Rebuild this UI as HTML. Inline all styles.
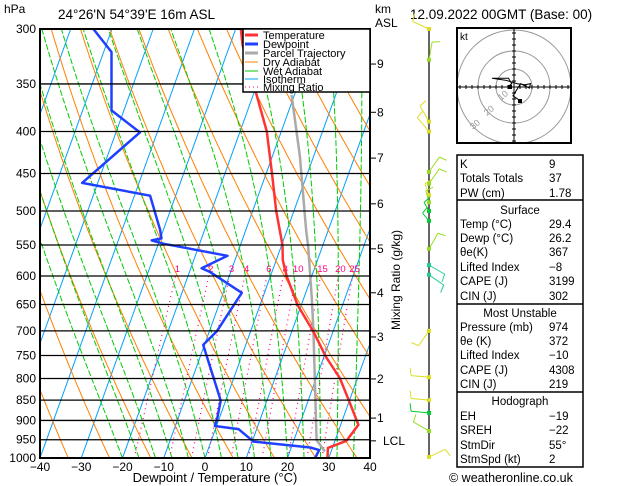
<!DOCTYPE html>
<html><head><meta charset="utf-8"><style>
body{margin:0;background:#fff;}
svg{display:block;font-family:"Liberation Sans",sans-serif;}
</style></head><body>
<svg id="c" width="629" height="486" viewBox="0 0 629 486">
<defs><clipPath id="pc"><rect x="40" y="29" width="330" height="429"/></clipPath></defs>
<g id="bg" clip-path="url(#pc)"></g>
<g id="series" clip-path="url(#pc)"></g>
<g id="axes"></g>
<rect x="40" y="29" width="330" height="429" fill="none" stroke="#000" stroke-width="2"/>
<text x="4" y="13" font-size="12">hPa</text>
<text x="58" y="19" font-size="13.5">24°26'N 54°39'E 16m ASL</text>
<text x="375" y="13" font-size="12">km</text>
<text x="375" y="27" font-size="12">ASL</text>
<text x="410" y="19" font-size="13.5">12.09.2022 00GMT (Base: 00)</text>
<text x="215" y="482" font-size="13" text-anchor="middle">Dewpoint / Temperature (°C)</text>
<text transform="translate(400,280) rotate(-90)" font-size="12" text-anchor="middle">Mixing Ratio (g/kg)</text>
<g>
<rect x="243" y="29" width="127" height="63" fill="#fff" stroke="#000" stroke-width="1.5"/>
<line x1="245" y1="35" x2="258" y2="35" stroke="#ff3333" stroke-width="3"/><text x="263" y="39" font-size="11">Temperature</text>
<line x1="245" y1="44" x2="258" y2="44" stroke="#2040ff" stroke-width="3"/><text x="263" y="48" font-size="11">Dewpoint</text>
<line x1="245" y1="53" x2="258" y2="53" stroke="#aaa" stroke-width="3"/><text x="263" y="57" font-size="11">Parcel Trajectory</text>
<line x1="245" y1="62" x2="258" y2="62" stroke="#ff8000" stroke-width="1"/><text x="263" y="66" font-size="11">Dry Adiabat</text>
<line x1="245" y1="71" x2="258" y2="71" stroke="#00cc00" stroke-width="1"/><text x="263" y="75" font-size="11">Wet Adiabat</text>
<line x1="245" y1="79" x2="258" y2="79" stroke="#00a0ff" stroke-width="1"/><text x="263" y="83" font-size="11">Isotherm</text>
<line x1="245" y1="87" x2="258" y2="87" stroke="#ff0080" stroke-width="1" stroke-dasharray="1,3"/><text x="263" y="91" font-size="11">Mixing Ratio</text>
</g>
<g id="winds"><line x1="429" y1="28" x2="429" y2="458" stroke="#000" stroke-width="1.2"/></g>
<g id="hodo">
<rect x="457" y="28" width="114" height="115" fill="#fff" stroke="#000" stroke-width="2"/>
</g>
<g id="table"></g>
<text x="449" y="482" font-size="12.5">© weatheronline.co.uk</text>
</svg>
<script>
// ---- data ----
const tempP=[1000,972,953,911,854,799,753,701,651,601,574,550,500,451,400,366,314,299];
const tempT=[29.7,28.9,32.8,34.3,30.1,25.7,20.5,15.2,9.1,4.0,1.6,0.2,-4.3,-8.5,-13.5,-18.4,-26.9,-28.9];
const dewP=[1000,978,971,955,922,914,895,851,728,701,629,593,587,567,548,543,540,527,479,462,401,377,320,300];
const dewT=[26.7,27.0,24.6,10.3,5.6,-0.4,-0.5,-1.2,-10.3,-8.2,-5.5,-15.1,-17.4,-12.2,-28.8,-31.9,-29.7,-30.8,-36.2,-53.8,-44.2,-53,-58.1,-64.5];
const parcelP=[982,951,899,698,636,553,527,429,361];
const parcelT=[28.5,25.5,23.6,15.1,11.8,6.6,4.6,-3.3,-10.7];
const pLevels=[300,350,400,450,500,550,600,650,700,750,800,850,900,950,1000];
const xTicks=[-40,-30,-20,-10,0,10,20,30,40];
const mixRatios=[1,2,3,4,6,8,10,15,20,25];
const kmLabels=["9","8","7","6","5","4","3","2","1","LCL"];
const kmPress=[331,379,431,490,556,629,712,801,894,953];
const barbP=[300,327,389,400,448,463,478,488,500,514,556,582,598,700,797,850,881,927,997];
const barbAng=[295,10,330,320,35,35,340,345,330,320,30,120,125,215,275,275,275,300,65];
const barbLen=[18,18,18,18,18,18,12,12,10,10,18,18,18,18,18,18,18,18,18];
const barbCol=["#dddd22","#99dd22","#dddd22","#dddd22","#99dd22","#99dd22","#dddd22","#99dd22","#00cc33","#00cc33","#99dd22","#22cc99","#22cc99","#dddd22","#dddd22","#dddd22","#00cc33","#99dd22","#dddd22"];
const hodoU=[-6,-2,-5,-20,-7,3,10,15,14,6,-1,5];
const hodoV=[0,3,8,8,6,3,2,3,-1,3,-8,-12];
const hodoRings=[10,20,30];
const tableRows=[["K","9",168],["Totals Totals","37",182],["PW (cm)","1.78",197],
["Temp (°C)","29.4",228],["Dewp (°C)","26.2",242],["θe(K)","367",256],["Lifted Index","-8",271],["CAPE (J)","3199",285],["CIN (J)","302",300],
["Pressure (mb)","974",331],["θe (K)","372",345],["Lifted Index","-10",359],["CAPE (J)","4308",374],["CIN (J)","219",388],
["EH","-19",420],["SREH","-22",434],["StmDir","55°",449],["StmSpd (kt)","2",463]];
const tableHeads=[["Surface",214],["Most Unstable",317],["Hodograph",405]];
// ---- scales ----
const X0=40,YB=458,SC=4.125,K=0.36,S=429/Math.log(1000/300);
function py(p){return YB-S*Math.log(1000/p);}
function px(T,p){return X0+(T+40)*SC+(YB-py(p))*K;}
const NS="http://www.w3.org/2000/svg";
function mk(tag,at,parent){const e=document.createElementNS(NS,tag);for(const k in at)e.setAttribute(k,at[k]);parent.appendChild(e);return e;}
const bg=document.getElementById('bg'),ser=document.getElementById('series'),ax=document.getElementById('axes');
function ptsFn(f,p1,p2){let s=[];for(let p=p1;p>=p2;p-=5){s.push(px(f(p),p).toFixed(1)+","+py(p).toFixed(1));}return s.join(" ");}
for(let T=-120;T<=40;T+=10){const l=mk('line',{x1:px(T,1000),y1:py(1000),x2:px(T,300),y2:py(300),stroke:'#00a0ff','stroke-width':1},bg);

}
for(let th=230;th<=480;th+=10){const l=mk('polyline',{points:ptsFn(p=>th*Math.pow(p/1000,0.286)-273.15,1000,300),fill:'none',stroke:'#ff8000','stroke-width':1},bg);

}
function es(T){return 6.112*Math.exp(17.67*T/(T+243.5));}
for(let T0=-20;T0<=40;T0+=4){let T=T0+273.15,s=[];for(let p=1000;p>=300;p-=2){s.push(px(T-273.15,p).toFixed(1)+","+py(p).toFixed(1));
const rs=0.622*es(T-273.15)/(p-es(T-273.15));const dT=(287*T+2.5e6*rs)/(1004+2.5e6*2.5e6*rs*0.622/(287*T*T))/p;T-=dT*2;}
const l=mk('polyline',{points:s.join(" "),fill:'none',stroke:'#00cc00','stroke-width':1,'stroke-dasharray':'6,2'},bg);

}
function tdw(w,p){const e=w*p/(622+w);const a=Math.log(e/6.112);return 243.5*a/(17.67-a);}
mixRatios.forEach(w=>{const l=mk('polyline',{points:ptsFn(p=>tdw(w,p),1000,600),fill:'none',stroke:'#ff0080','stroke-width':1.2,'stroke-dasharray':'1,4'},bg);


const t=mk('text',{x:px(tdw(w,600),600)+2,y:py(600)-4,'font-size':9.5,fill:'#ff0080','text-anchor':'middle'},ser);t.textContent=w;

});
pLevels.forEach(p=>{const l=mk('line',{x1:40,x2:370,y1:py(p),y2:py(p),stroke:'#000','stroke-width':1.3},ax);


const t=mk('text',{x:36,y:py(p)+4,'font-size':12,'text-anchor':'end'},ax);t.textContent=p;

});
xTicks.forEach(T=>{const t=mk('text',{x:px(T,1000),y:471,'font-size':12,'text-anchor':'middle'},ax);t.textContent=String(T).replace('-','\u2212');

});
kmLabels.forEach((k,i)=>{const y=py(kmPress[i]);mk('line',{x1:370,x2:376,y1:y,y2:y,stroke:'#000'},ax);
const t=mk('text',{x:k=="LCL"?383:377,y:y+4,'font-size':12},ax);t.textContent=k;

});
function line(P,T,col,w,name){const l=mk('polyline',{points:P.map((p,i)=>px(T[i],p).toFixed(1)+","+py(p).toFixed(1)).join(" "),fill:'none',stroke:col,'stroke-width':w,'stroke-linejoin':'round'},ser);

}
line(parcelP,parcelT,'#aaa',2.5,'parcel-trajectory');
line(tempP,tempT,'#ff3333',2.5,'temperature-line');
line(dewP,dewT,'#2040ff',2.5,'dewpoint-line');
const W=document.getElementById('winds');
barbP.forEach((p,i)=>{const y=py(p),a=barbAng[i]*Math.PI/180,L=barbLen[i];const x2=429+L*Math.sin(a),y2=y-L*Math.cos(a);
const g=mk('g',{stroke:barbCol[i],fill:barbCol[i],'stroke-width':1},W);


mk('line',{x1:429,y1:y,x2:x2,y2:y2},g);
const fa=a+Math.PI/2.3;mk('line',{x1:x2,y1:y2,x2:x2+8*Math.sin(fa),y2:y2-8*Math.cos(fa)},g);
mk('rect',{x:427,y:y-2,width:4,height:4,stroke:'none'},g);});
const H=document.getElementById('hodo'),hx=514,hy=87,hs=1.1;
const hcp=mk('clipPath',{id:'hcp'},H);mk('rect',{x:457,y:28,width:114,height:115},hcp);
const hg=mk('g',{'clip-path':'url(#hcp)'},H);
[18,36,57].forEach(r=>{mk('circle',{cx:hx,cy:hy,r:r,fill:'none',stroke:'#999','stroke-width':1},hg);});
mk('rect',{x:457,y:28,width:114,height:115,fill:'none',stroke:'#000','stroke-width':2},H);
const kt=mk('text',{x:460,y:40,'font-size':10},H);kt.textContent='kt';
mk('line',{x1:458,x2:570,y1:hy,y2:hy,stroke:'#000'},H);mk('line',{x1:hx,x2:hx,y1:29,y2:142,stroke:'#000'},H);
for(let d=-54;d<=54;d+=6){if(d){mk('line',{x1:hx+d,x2:hx+d,y1:hy-2,y2:hy+2,stroke:'#000'},H);mk('line',{y1:hy+d,y2:hy+d,x1:hx-2,x2:hx+2,stroke:'#000'},H);}}
[["10",501,101],["20",487,116],["30",473,130]].forEach(a=>{const t=mk('text',{x:a[1],y:a[2],'font-size':9,fill:'#999',transform:`rotate(-40 ${a[1]} ${a[2]})`},H);t.textContent=a[0];});
const hl=mk('polyline',{points:hodoU.map((u,i)=>(hx+u*hs).toFixed(1)+","+(hy-hodoV[i]*hs).toFixed(1)).join(" "),fill:'none',stroke:'#000','stroke-width':1},H);


mk('rect',{x:508,y:85,width:4,height:4},H);mk('rect',{x:518,y:99,width:4,height:4},H);
const TB=document.getElementById('table');
mk('rect',{x:457,y:155,width:126,height:312,fill:'none',stroke:'#000','stroke-width':1.5},TB);
[200,304,392].forEach(y=>mk('line',{x1:457,x2:583,y1:y,y2:y,stroke:'#000','stroke-width':1.5},TB));
tableRows.forEach(r=>{const a=mk('text',{x:460,y:r[2],'font-size':11.5},TB);a.textContent=r[0];


const b=mk('text',{x:549,y:r[2],'font-size':11.5},TB);b.textContent=r[1].replace('-','\u2212');

});
tableHeads.forEach(h=>{const t=mk('text',{x:520,y:h[1],'font-size':11.5,'text-anchor':'middle'},TB);t.textContent=h[0];

});
</script>
</body></html>
